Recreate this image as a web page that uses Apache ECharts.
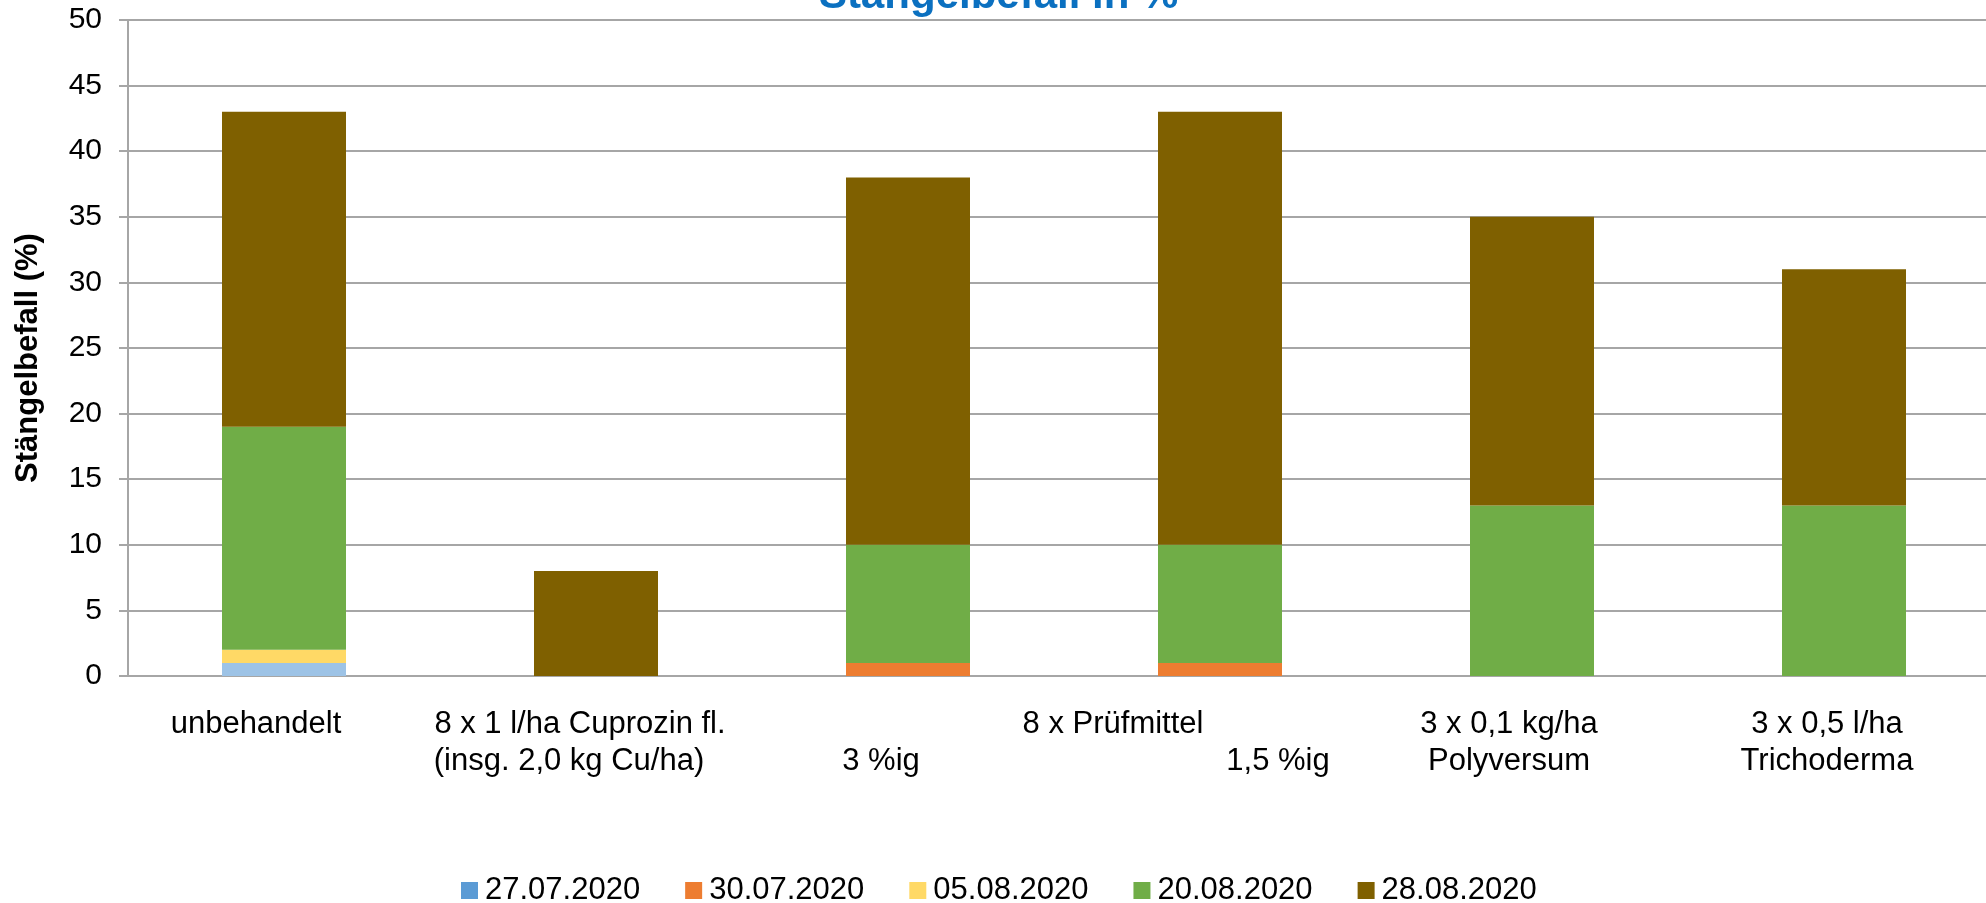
<!DOCTYPE html>
<html>
<head>
<meta charset="utf-8">
<script src="https://cdn.jsdelivr.net/npm/echarts@6/dist/echarts.min.js"></script>
<style>html,body{margin:0;padding:0;background:#fff;}#c{width:1986px;height:903px;}</style>
</head>
<body>
<div id="c"></div>
<script>
// ---- data ----
const categories = [
  'unbehandelt',
  '8 x 1 l/ha Cuprozin fl.\n(insg. 2,0 kg Cu/ha)',
  '3 %ig',
  '8 x Prüfmittel\n1,5 %ig',
  '3 x 0,1 kg/ha\nPolyversum',
  '3 x 0,5 l/ha\nTrichoderma'
];
const seriesNames = ['27.07.2020', '30.07.2020', '05.08.2020', '20.08.2020', '28.08.2020'];
const v27_07 = [1, 0, 0, 0, 0, 0];
const v30_07 = [0, 0, 1, 1, 0, 0];
const v05_08 = [1, 0, 0, 0, 0, 0];
const v20_08 = [17, 0, 9, 9, 13, 13];
const v28_08 = [24, 8, 28, 33, 22, 18];
const yTicks = [0, 5, 10, 15, 20, 25, 30, 35, 40, 45, 50];

// ---- styling ----
const legendColors = ['#5B9BD5', '#ED7D31', '#FFD966', '#70AD47', '#7F6000'];
const barColors = ['#9DC3E6', '#ED7D31', '#FFD966', '#70AD47', '#7F6000'];
const FONT = '"Liberation Sans", Arial, sans-serif';
const values = [v27_07, v30_07, v05_08, v20_08, v28_08];
const LBL = 31;

// horizontal shift of each label line (px) relative to category centre
const lineShift = [
  [-28],
  [-16, -27],
  [null, -27],
  [-107, 58],
  [-23, -23],
  [-17, -17]
];
const rich = {};
categories.forEach((c, i) => {
  lineShift[i].forEach((s, j) => {
    if (s === null) return;
    const pad = s < 0 ? [0, -2 * s, 0, 0] : [0, 0, 0, 2 * s];
    rich['c' + i + 'l' + j] = { fontSize: LBL, fontFamily: FONT, color: '#000', lineHeight: 37, padding: pad };
  });
});
rich.blank = { fontSize: LBL, fontFamily: FONT, lineHeight: 37 };

const chart = echarts.init(document.getElementById('c'), null, { renderer: 'canvas' });
chart.setOption({
  animation: false,
  backgroundColor: '#fff',
  title: {
    text: 'Stängelbefall in %',
    left: 814,
    top: -30,
    textStyle: { color: '#0B70C0', fontSize: 42, fontWeight: 'bold', fontFamily: FONT }
  },
  legend: {
    data: seriesNames,
    left: 456,
    top: 870,
    itemWidth: 17,
    itemHeight: 17,
    itemGap: 45,
    icon: 'rect',
    textStyle: { fontSize: LBL, fontFamily: FONT, color: '#000', padding: [0, 0, 0, 2] }
  },
  grid: { left: 128, width: 1872, top: 20, bottom: 227, containLabel: false, outerBoundsMode: 'none' },
  xAxis: {
    type: 'category',
    data: categories,
    axisTick: { show: false },
    axisLine: { show: true, lineStyle: { color: '#A6A6A6', width: 2 } },
    axisLabel: {
      interval: 0,
      margin: 30,
      fontSize: LBL,
      fontFamily: FONT,
      color: '#000',
      lineHeight: 37,
      rich: rich,
      formatter: function (val, idx) {
        const lines = val.split('\n');
        if (idx === 2) return '{blank| }\n{c2l1|' + lines[0] + '}';
        return lines.map((l, j) => '{c' + idx + 'l' + j + '|' + l + '}').join('\n');
      }
    }
  },
  yAxis: {
    type: 'value',
    min: yTicks[0],
    max: yTicks[yTicks.length - 1],
    interval: 5,
    name: 'Stängelbefall (%)',
    nameLocation: 'middle',
    nameGap: 84,
    nameTextStyle: { fontSize: 31, fontWeight: 'bold', fontFamily: FONT, color: '#000', padding: [0, 20, 0, 0] },
    axisLine: { show: true, lineStyle: { color: '#A6A6A6', width: 2 } },
    axisTick: { show: true, length: 9, lineStyle: { color: '#A6A6A6', width: 2 } },
    axisLabel: { fontSize: 30, fontFamily: FONT, color: '#000', margin: 26 },
    splitLine: { show: true, lineStyle: { color: '#A6A6A6', width: 2 } }
  },
  series: seriesNames.map((name, k) => ({
    name: name,
    type: 'bar',
    stack: 'total',
    barWidth: 124,
    itemStyle: { color: legendColors[k] },
    data: values[k].map(v => ({ value: v, itemStyle: { color: barColors[k] } }))
  }))
});
</script>
</body>
</html>
